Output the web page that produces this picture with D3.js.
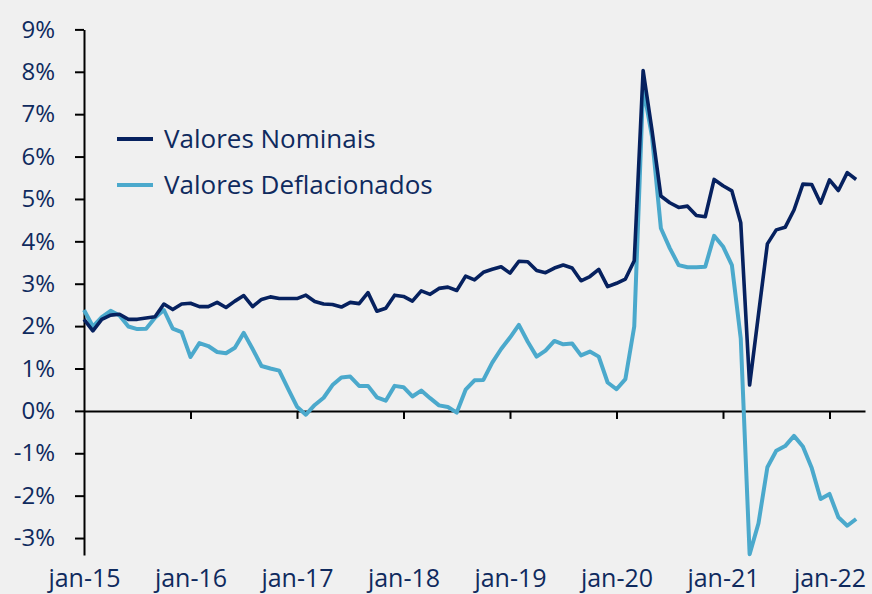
<!DOCTYPE html>
<html lang="pt">
<head>
<meta charset="UTF-8">
<title>Valores Nominais vs Deflacionados</title>
<script src="https://cdn.jsdelivr.net/npm/d3@7"></script>
<style>
  html, body { margin: 0; padding: 0; background: #f0f0f0; }
  svg { display: block; font-family: "Open Sans", sans-serif; }
  .axis text { fill: #0f2a5e; font-family: "Open Sans", sans-serif; }
  .axis path, .axis line { stroke: #000; stroke-width: 2; }
</style>
</head>
<body>
<svg id="chart" width="872" height="594"></svg>
<script>
// meses desde jan-15 (0) até abr-22 (87)
var yearTicks = [0, 12, 24, 36, 48, 60, 72, 84];
var yearLabels = ["jan-15", "jan-16", "jan-17", "jan-18", "jan-19", "jan-20", "jan-21", "jan-22"];
var yTicks = [-3, -2, -1, 0, 1, 2, 3, 4, 5, 6, 7, 8, 9];

var nominais = [
  2.16, 1.89, 2.16, 2.26, 2.28, 2.16, 2.16, 2.19, 2.22, 2.52, 2.39, 2.52,
  2.54, 2.46, 2.46, 2.56, 2.44, 2.59, 2.72, 2.46, 2.63, 2.69, 2.65, 2.65,
  2.65, 2.73, 2.58, 2.52, 2.51, 2.45, 2.56, 2.53, 2.79, 2.35, 2.42, 2.73,
  2.70, 2.59, 2.83, 2.75, 2.89, 2.92, 2.84, 3.18, 3.09, 3.27, 3.34, 3.40,
  3.25, 3.53, 3.52, 3.31, 3.26, 3.37, 3.44, 3.37, 3.07, 3.17, 3.34, 2.93,
  3.01, 3.11, 3.54, 8.03, 6.62, 5.07, 4.91, 4.80, 4.83, 4.61, 4.58, 5.46,
  5.31, 5.19, 4.44, 0.61, 2.28, 3.94, 4.27, 4.33, 4.74, 5.35, 5.34, 4.90,
  5.45, 5.20, 5.62, 5.46
];
var deflacionados = [
  2.38, 1.99, 2.21, 2.36, 2.25, 1.99, 1.93, 1.94, 2.20, 2.38, 1.94, 1.86,
  1.27, 1.60, 1.53, 1.39, 1.36, 1.49, 1.84, 1.46, 1.06, 1.00, 0.95, 0.52,
  0.10, -0.09, 0.14, 0.31, 0.61, 0.79, 0.81, 0.59, 0.59, 0.32, 0.24, 0.59,
  0.56, 0.34, 0.48, 0.30, 0.13, 0.09, -0.04, 0.50, 0.72, 0.73, 1.14, 1.46,
  1.73, 2.03, 1.63, 1.28, 1.42, 1.65, 1.57, 1.59, 1.31, 1.40, 1.28, 0.67,
  0.51, 0.75, 1.99, 7.65, 6.47, 4.31, 3.84, 3.44, 3.39, 3.39, 3.40, 4.13,
  3.88, 3.44, 1.71, -3.38, -2.65, -1.33, -0.94, -0.83, -0.59, -0.84, -1.35, -2.08,
  -1.96, -2.51, -2.71, -2.55
];

var series = [
  { name: "Valores Nominais", values: nominais, color: "#06215f", width: 3.6 },
  { name: "Valores Deflacionados", values: deflacionados, color: "#4ba9cc", width: 4 }
];

var svg = d3.select("#chart");

var x = d3.scaleLinear().domain([0, 88]).range([84, 865]);
var y = d3.scaleLinear().domain([-3.4, 9]).range([555, 29.4]);

// eixo Y
svg.append("g")
  .attr("class", "axis")
  .attr("transform", "translate(" + x(0) + ",0)")
  .call(d3.axisLeft(y).tickValues(yTicks).tickSize(9).tickSizeOuter(0).tickPadding(20)
    .tickFormat(function (d) { return d + "%"; }))
  .selectAll("text").style("font-size", "24px");

// eixo X na linha do zero
svg.append("g")
  .attr("class", "axis")
  .attr("transform", "translate(0," + y(0) + ")")
  .call(d3.axisBottom(x).tickValues(yearTicks.slice(1)).tickSize(8).tickSizeOuter(0)
    .tickFormat(""));

// rótulos dos anos em baixo
svg.append("g")
  .attr("class", "axis")
  .attr("transform", "translate(0,566)")
  .call(d3.axisBottom(x).tickValues(yearTicks).tickSize(0)
    .tickFormat(function (d, i) { return yearLabels[i]; }))
  .call(function (g) { g.select(".domain").remove(); })
  .selectAll("text").style("font-size", "25px");

var line = d3.line()
  .x(function (d, i) { return x(i); })
  .y(function (d) { return y(d); });

// desenhar a série clara primeiro para a escura ficar por cima
series.slice().reverse().forEach(function (s) {
  svg.append("path")
    .datum(s.values)
    .attr("fill", "none")
    .attr("stroke", s.color)
    .attr("stroke-width", s.width)
    .attr("stroke-linejoin", "round")
    .attr("d", line);
});

// legenda
var legend = svg.append("g").attr("transform", "translate(117,139)");
series.forEach(function (s, i) {
  var row = legend.append("g").attr("transform", "translate(0," + (i * 46) + ")");
  row.append("line")
    .attr("x1", 0).attr("x2", 36)
    .attr("stroke", s.color).attr("stroke-width", 4);
  row.append("text")
    .attr("x", 47).attr("dy", "0.35em")
    .attr("fill", "#0f2a5e")
    .style("font-size", "26px")
    .text(s.name);
});
</script>
</body>
</html>
